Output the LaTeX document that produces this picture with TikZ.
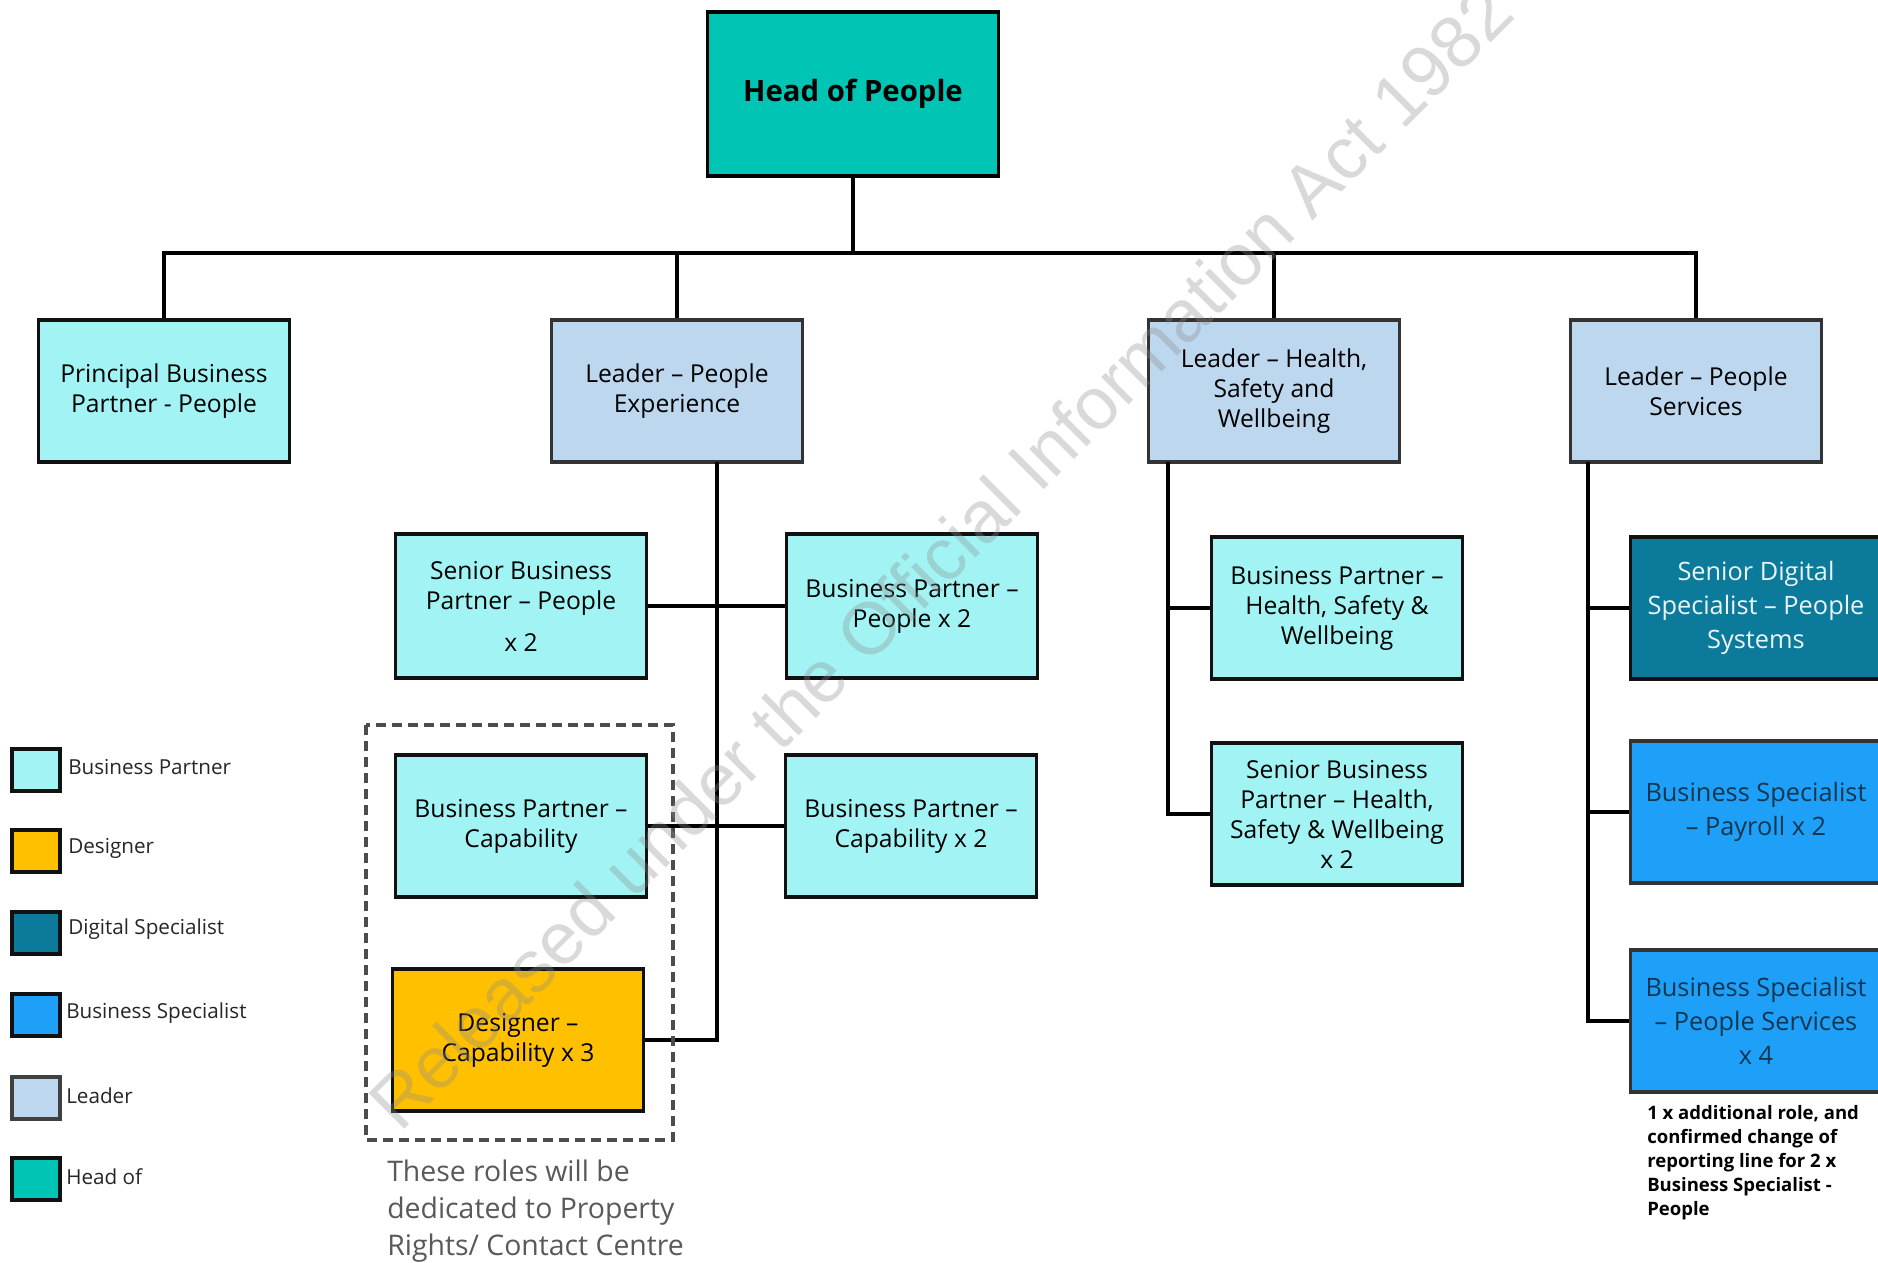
\documentclass[tikz,border=0pt]{standalone}
\usepackage{fontspec}
\setmainfont{Open Sans}
\newfontfamily\wmfont{Liberation Sans}
\definecolor{headc}{HTML}{00C5B4}
\definecolor{bpc}{HTML}{A2F4F4}
\definecolor{leadc}{HTML}{BDD7EE}
\definecolor{desc}{HTML}{FFC000}
\definecolor{digc}{HTML}{0B7A9B}
\definecolor{bsc}{HTML}{1FA0F8}
\definecolor{bstext}{HTML}{123650}
\definecolor{notegray}{HTML}{595959}
\definecolor{bordc}{HTML}{111111}
\tikzset{
  role/.style={draw=bordc, line width=2.8pt, align=center, inner sep=0pt,
    minimum width=188.25pt, minimum height=107pt,
    font=\fontsize{18.5}{22.5}\selectfont, text=black},
  bprole/.style={role, fill=bpc},
  leadrole/.style={role, fill=leadc, draw=black!80},
  desrole/.style={role, fill=desc},
  digrole/.style={role, fill=digc, text=white!92!digc, font=\fontsize{19}{25.5}\selectfont},
  bsrole/.style={role, fill=bsc, draw=black!80, text=bstext, font=\fontsize{19}{25.5}\selectfont},
  link/.style={draw=black, line width=2.7pt},
  legsq/.style={draw=bordc, line width=2.8pt, minimum width=36pt, minimum height=32pt, inner sep=0pt},
  leglab/.style={anchor=west, inner sep=0pt, font=\fontsize{15.5}{18}\selectfont, text=black!85},
  dashbox/.style={draw=black!70, line width=2.6pt, dash pattern=on 7.5pt off 4.5pt},
}
\begin{document}
\begin{tikzpicture}[x=0.75pt, y=-0.75pt]
\useasboundingbox (0,0) rectangle (1878,1263);
\fill[white] (0,0) rectangle (1878,1263);

% top
\node[role, fill=headc, draw=black, minimum width=218.25pt, minimum height=123pt,
  font=\bfseries\fontsize{22}{26}\selectfont] (head) at (853,94) {Head of People};
\coordinate (bus) at (853,253);

% row 1
\node[bprole] (prin) at (164,391) {Principal Business\\Partner - People};
\node[leadrole] (lpx) at (677,391) {Leader – People\\Experience};
\node[leadrole] (lhsw) at (1274,391) {Leader – Health,\\Safety and\\Wellbeing};
\node[leadrole] (lps) at (1696,391) {Leader – People\\Services};

\draw[link] (head.south) -- (bus);
\draw[link] (prin.north) |- (bus) -| (lps.north);
\draw[link] (lpx.north) -- (lpx.north |- bus);
\draw[link] (lhsw.north) -- (lhsw.north |- bus);

% People Experience column
\node[bprole, minimum height=108pt] (spx) at (521,606) {Senior Business\\Partner – People\\[9pt]x 2};
\node[bprole, minimum height=108pt] (bpx) at (912,606) {Business Partner –\\People x 2};
\node[bprole] (bpc1) at (521,826) {Business Partner –\\Capability};
\node[bprole] (bpc2) at (911,826) {Business Partner –\\Capability x 2};
\node[desrole] (des) at (518,1040) {Designer –\\Capability x 3};
\coordinate (pxt) at (717,462);
\draw[link] (pxt) |- (des.east);
\draw[link] (spx.east) -- (bpx.west);
\draw[link] (bpc1.east) -- (bpc2.west);

\draw[dashbox] (366,725) rectangle (673,1140);
\node[anchor=north west, align=left, inner sep=0pt, text=notegray,
  font=\fontsize{21.3}{27.75}\selectfont] (note1) at (387,1160)
  {These roles will be\\dedicated to Property\\Rights/ Contact Centre};

% HSW column
\node[bprole] (bphsw) at (1337,608) {Business Partner –\\Health, Safety \&\\Wellbeing};
\node[bprole] (sbphsw) at (1337,814) {Senior Business\\Partner – Health,\\Safety \& Wellbeing\\x 2};
\coordinate (hswt) at (1168,462);
\draw[link] (hswt) |- (sbphsw.west);
\draw[link] (bphsw.west) -- (bphsw.west -| hswt);

% People Services column
\node[digrole] (sds) at (1756,608) {Senior Digital\\Specialist – People\\Systems};
\node[bsrole] (bspay) at (1756,812) {Business Specialist\\– Payroll x 2};
\node[bsrole] (bsps) at (1756,1021) {Business Specialist\\– People Services\\x 4};
\coordinate (pst) at (1588,462);
\draw[link] (pst) |- (bsps.west);
\draw[link] (sds.west) -- (sds.west -| pst);
\draw[link] (bspay.west) -- (bspay.west -| pst);

\node[anchor=north west, align=left, inner sep=0pt, text=black,
  font=\bfseries\fontsize{13.9}{18}\selectfont] (note2) at (1647,1105)
  {1 x additional role, and\\confirmed change of\\reporting line for 2 x\\Business Specialist -\\People};

% legend
\node[legsq, fill=bpc] (k1) at (36,770) {};
\node[legsq, fill=desc] (k2) at (36,851) {};
\node[legsq, fill=digc] (k3) at (36,933) {};
\node[legsq, fill=bsc] (k4) at (36,1015) {};
\node[legsq, fill=leadc, draw=black!75] (k5) at (36,1098) {};
\node[legsq, fill=headc] (k6) at (36,1179) {};
\node[leglab] (t1) at (68,767) {Business Partner};
\node[leglab] (t2) at (68,848) {Designer};
\node[leglab] (t3) at (68,929) {Digital Specialist};
\node[leglab] (t4) at (66,1013) {Business Specialist};
\node[leglab] (t5) at (66,1096) {Leader};
\node[leglab] (t6) at (66,1177) {Head of};

% watermark
\node[rotate=45, anchor=base west, inner sep=0pt, text=black!45, text opacity=0.33,
  font=\wmfont\fontsize{55}{60}\selectfont] (wm) at (400,1134)
  {Released under the Official Information Act 1982};
\end{tikzpicture}
\end{document}
